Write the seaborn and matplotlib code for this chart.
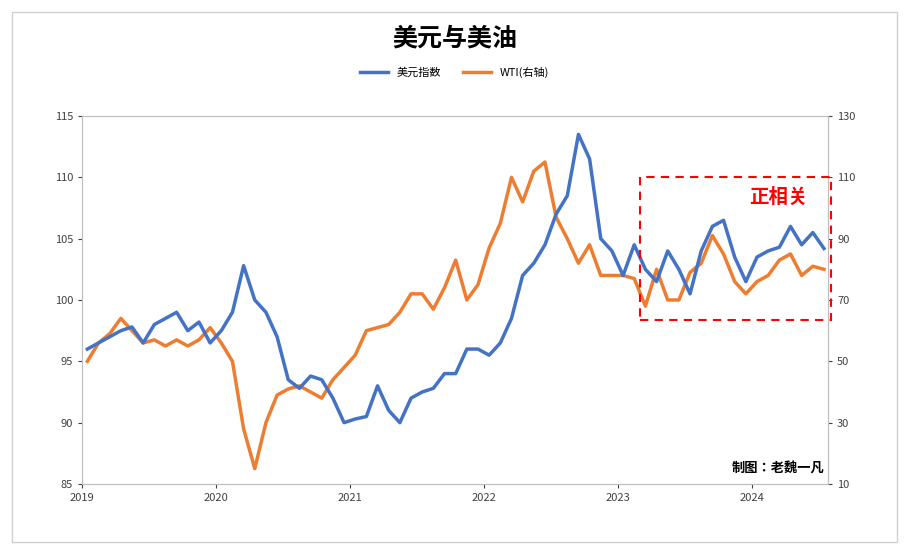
import matplotlib.pyplot as plt
import matplotlib.patches as patches
from matplotlib import font_manager
import numpy as np
import pandas as pd
import seaborn as sns

cjk = [f.name for f in font_manager.fontManager.ttflist if 'CJK' in f.name]
plt.rcParams['font.family'] = 'sans-serif'
plt.rcParams['font.sans-serif'] = sorted(set(cjk)) + ['DejaVu Sans']

# 月度读数（从原图估算），2019-01 起
dxy = [96, 96.5, 97, 97.5, 97.8, 96.5, 98, 98.5, 99, 97.5, 98.2, 96.5,
       97.5, 99, 102.8, 100, 99, 97, 93.5, 92.8, 93.8, 93.5, 92, 90,
       90.3, 90.5, 93, 91, 90, 92, 92.5, 92.8, 94, 94, 96, 96,
       95.5, 96.5, 98.5, 102, 103, 104.5, 107, 108.5, 113.5, 111.5, 105, 104,
       102, 104.5, 102.5, 101.5, 104, 102.5, 100.5, 104, 106, 106.5, 103.5, 101.5,
       103.5, 104, 104.3, 106, 104.5, 105.5, 104.2]
wti = [50, 56, 59, 64, 60, 56, 57, 55, 57, 55, 57, 61,
       56, 50, 28, 15, 30, 39, 41, 42, 40, 38, 44, 48,
       52, 60, 61, 62, 66, 72, 72, 67, 74, 83, 70, 75,
       87, 95, 110, 102, 112, 115, 97, 90, 82, 88, 78, 78,
       78, 77, 68, 80, 70, 70, 79, 82, 91, 85, 76, 72,
       76, 78, 83, 85, 78, 81, 80]
t = 2019 + np.arange(len(dxy)) / 12 + 0.04
years = [2019, 2020, 2021, 2022, 2023, 2024]

df = pd.DataFrame({'t': t, 'dxy': dxy, 'wti': wti})
blue, orange = '#4472C4', '#ED7D31'

fig = plt.figure(figsize=(9.09, 5.54), dpi=100)
ax = fig.add_axes([82/909, 1-484/554, (828-82)/909, (484-116)/554])
ax2 = ax.twinx()
sns.lineplot(data=df, x='t', y='dxy', ax=ax, color=blue, lw=2.5, label='美元指数', legend=False)
sns.lineplot(data=df, x='t', y='wti', ax=ax2, color=orange, lw=2.5, label='WTI(右轴)', legend=False)

ax.set_xlim(2019, 2024.57)
ax.set_ylim(85, 115)
ax2.set_ylim(10, 130)
ax.set_yticks(range(85, 116, 5))
ax2.set_yticks(range(10, 131, 20))
ax.set_xticks(years)
ax.set_xticklabels([str(y) for y in years])
for a in (ax, ax2):
    a.set_xlabel('')
    a.set_ylabel('')
    a.tick_params(labelsize=8, colors='#404040', length=3)
    for s in a.spines.values():
        s.set_color('#bfbfbf')
ax.set_zorder(ax2.get_zorder() + 1)
ax.patch.set_visible(False)

# 正相关区域
ax.add_patch(patches.Rectangle((2023.17, 98.4), 1.42, 11.6, fill=False, ec='red',
                               ls=(0, (4, 3)), lw=1.5, clip_on=False, zorder=5))
ax.text(2024.2, 108.4, '正相关', color='red', fontsize=14, fontweight='bold', ha='center', va='center')
ax.text(2024.2, 86.3, '制图：老魏一凡', fontsize=9.5, fontweight='bold', ha='center', va='center')

fig.text(0.5, 1-38/554, '美元与美油', ha='center', va='center', fontsize=18, fontweight='bold')
h1, l1 = ax.get_legend_handles_labels()
h2, l2 = ax2.get_legend_handles_labels()
fig.legend(h1 + h2, l1 + l2, loc='center', bbox_to_anchor=(0.5, 1-72/554), ncol=2,
           frameon=False, fontsize=8, handlelength=2.5)
fig.add_artist(patches.Rectangle((12/909, 12/554), 885/909, 530/554, transform=fig.transFigure,
                                 fill=False, ec='#d0d0d0', lw=1))
fig.savefig('out.png', dpi=100)
